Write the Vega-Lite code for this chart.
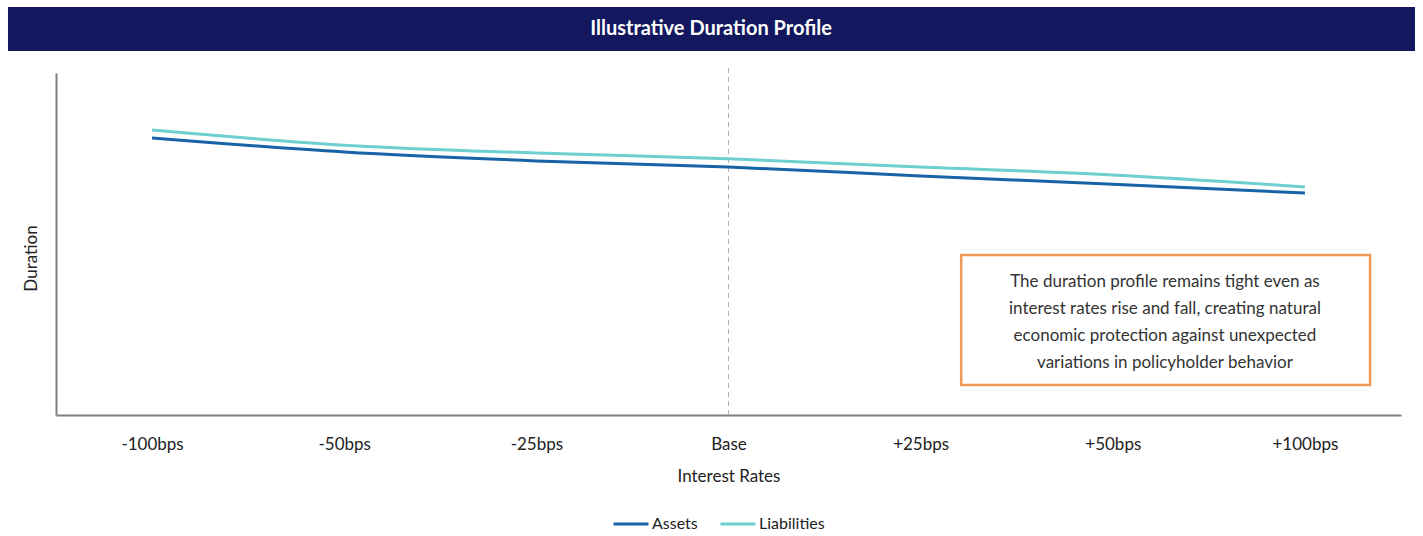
{
  "$schema": "https://vega.github.io/schema/vega-lite/v6.json",
  "width": 1345,
  "height": 342,
  "autosize": "none",
  "padding": {"left": 56, "top": 73, "right": 22, "bottom": 121},
  "background": "#ffffff",
  "config": {
    "view": {"stroke": null},
    "font": "Lato",
    "axis": {"labelFont": "Lato", "titleFont": "Lato"},
    "legend": {"labelFont": "Lato"}
  },
  "datasets": {
    "profile": [
      {"rate": "-100bps", "series": "Assets", "duration": 8.10},
      {"rate": "-50bps", "series": "Assets", "duration": 7.69},
      {"rate": "-25bps", "series": "Assets", "duration": 7.43},
      {"rate": "Base", "series": "Assets", "duration": 7.25},
      {"rate": "+25bps", "series": "Assets", "duration": 6.99},
      {"rate": "+50bps", "series": "Assets", "duration": 6.75},
      {"rate": "+100bps", "series": "Assets", "duration": 6.49},
      {"rate": "-100bps", "series": "Liabilities", "duration": 8.33},
      {"rate": "-50bps", "series": "Liabilities", "duration": 7.89},
      {"rate": "-25bps", "series": "Liabilities", "duration": 7.66},
      {"rate": "Base", "series": "Liabilities", "duration": 7.49},
      {"rate": "+25bps", "series": "Liabilities", "duration": 7.25},
      {"rate": "+50bps", "series": "Liabilities", "duration": 7.02},
      {"rate": "+100bps", "series": "Liabilities", "duration": 6.67}
    ]
  },
  "layer": [
    {
      "data": {"name": "profile"},
      "layer": [
        {
          "mark": {"type": "rule", "color": "#b0b0b0", "strokeWidth": 1, "strokeDash": [5, 4]},
          "encoding": {
            "x": {"datum": "Base", "type": "nominal"},
            "y": {"datum": 0, "type": "quantitative"},
            "y2": {"datum": 10.18}
          }
        },
        {
          "mark": {"type": "line", "strokeWidth": 3, "interpolate": "monotone"},
          "encoding": {
            "x": {
              "field": "rate",
              "type": "nominal",
              "sort": ["-100bps", "-50bps", "-25bps", "Base", "+25bps", "+50bps", "+100bps"],
              "scale": {"type": "point", "padding": 0.5},
              "axis": {
                "title": "Interest Rates",
                "labelAngle": 0,
                "labelAlign": "center",
                "labelFontSize": 17,
                "labelColor": "#222222",
                "labelPadding": 29,
                "ticks": false,
                "domainColor": "#7f7f7f",
                "domainWidth": 2,
                "titleFontSize": 17,
                "titleFontWeight": "normal",
                "titleColor": "#222222",
                "titlePadding": 16
              }
            },
            "y": {
              "field": "duration",
              "type": "quantitative",
              "scale": {"domain": [0, 10], "nice": false},
              "axis": {
                "title": "Duration",
                "labels": false,
                "ticks": false,
                "grid": false,
                "domainColor": "#7f7f7f",
                "domainWidth": 2,
                "titleFontSize": 17,
                "titleFontWeight": "normal",
                "titleColor": "#222222",
                "titlePadding": 16,
                "titleY": 185
              }
            },
            "color": {
              "field": "series",
              "type": "nominal",
              "scale": {"domain": ["Assets", "Liabilities"], "range": ["#1763a6", "#6dcfd0"]},
              "legend": {
                "title": null,
                "orient": "none",
                "legendX": 556,
                "legendY": 432,
                "direction": "horizontal",
                "symbolType": "stroke",
                "symbolSize": 1225,
                "symbolStrokeWidth": 3,
                "labelFontSize": 16,
                "labelColor": "#222222",
                "labelOffset": 2,
                "columnPadding": 16
              }
            }
          }
        }
      ]
    },
    {
      "data": {"values": [{}]},
      "layer": [
        {
          "mark": {"type": "rect", "fill": "#12175e"},
          "encoding": {
            "x": {"datum": -0.0357, "type": "quantitative", "scale": {"domain": [0, 1]}, "axis": null},
            "x2": {"datum": 1.0104},
            "y": {"datum": 11.93, "type": "quantitative", "scale": {"domain": [0, 10], "nice": false}},
            "y2": {"datum": 10.64}
          }
        },
        {
          "mark": {"type": "text", "text": "Illustrative Duration Profile", "font": "Lato", "fontSize": 20, "fontWeight": "bold", "color": "#ffffff", "align": "center", "baseline": "middle"},
          "encoding": {
            "x": {"datum": 0.487, "type": "quantitative", "scale": {"domain": [0, 1]}, "axis": null},
            "y": {"datum": 11.29, "type": "quantitative", "scale": {"domain": [0, 10], "nice": false}}
          }
        },
        {
          "mark": {"type": "rect", "fill": "#ffffff", "stroke": "#ee9a58", "strokeWidth": 2.5},
          "encoding": {
            "x": {"datum": 0.673, "type": "quantitative", "scale": {"domain": [0, 1]}, "axis": null},
            "x2": {"datum": 0.977},
            "y": {"datum": 4.68, "type": "quantitative", "scale": {"domain": [0, 10], "nice": false}},
            "y2": {"datum": 0.88}
          }
        },
        {
          "mark": {
            "type": "text",
            "text": ["The duration profile remains tight even as", "interest rates rise and fall, creating natural", "economic protection against unexpected", "variations in policyholder behavior"],
            "font": "Lato",
            "fontSize": 17,
            "lineHeight": 27,
            "color": "#333333",
            "align": "center",
            "baseline": "middle"
          },
          "encoding": {
            "x": {"datum": 0.8245, "type": "quantitative", "scale": {"domain": [0, 1]}, "axis": null},
            "y": {"datum": 3.89, "type": "quantitative", "scale": {"domain": [0, 10], "nice": false}}
          }
        }
      ]
    }
  ],
  "resolve": {"scale": {"x": "independent"}, "axis": {"x": "independent"}}
}
